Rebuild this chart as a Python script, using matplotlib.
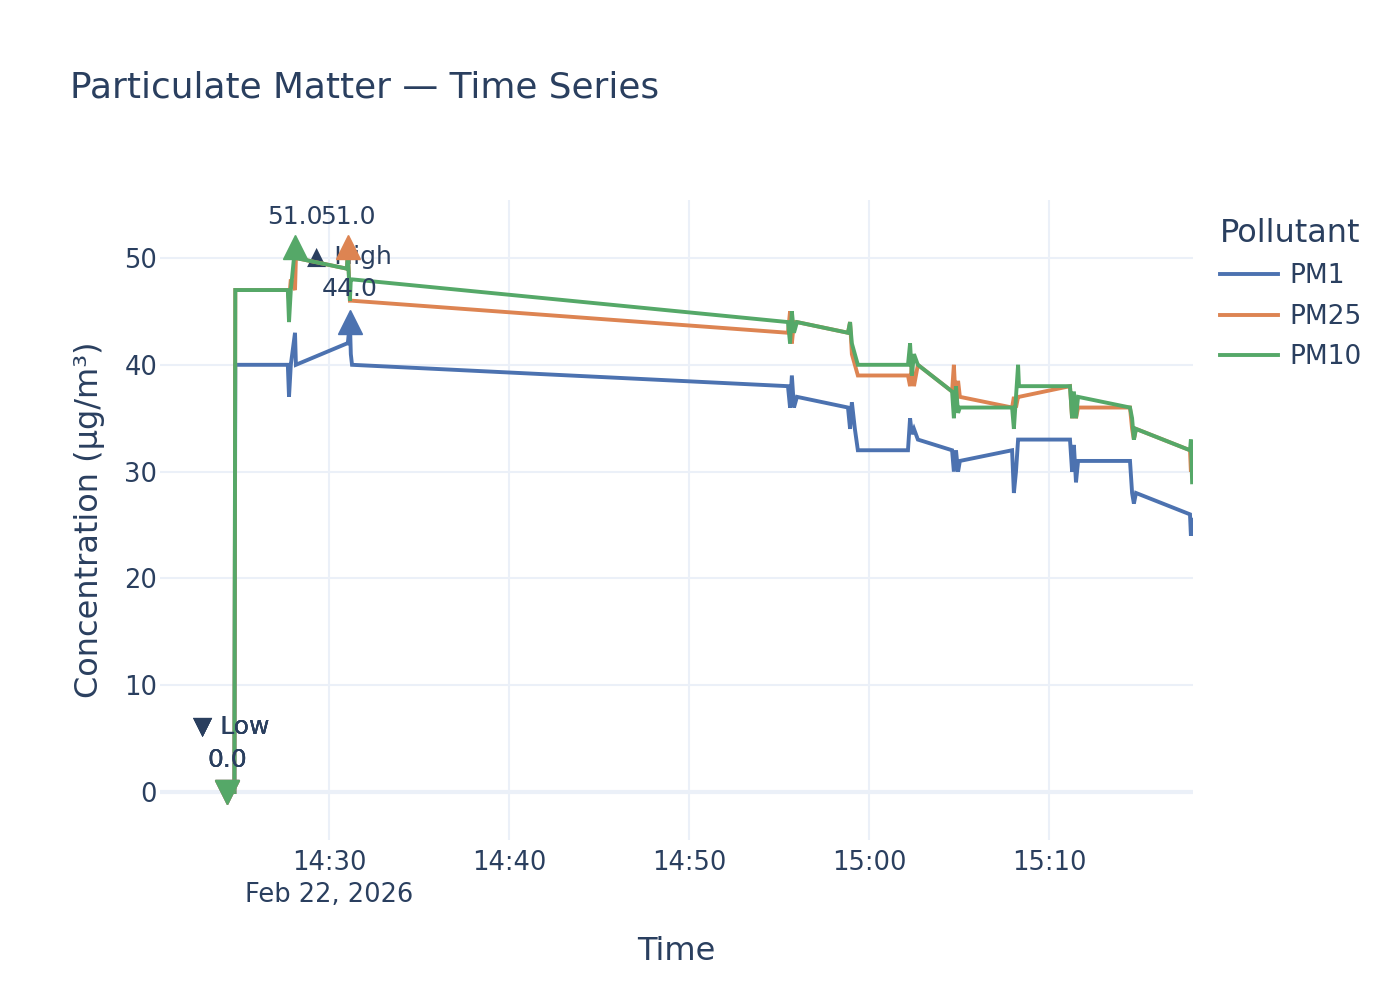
import matplotlib
matplotlib.use("Agg")
import matplotlib.pyplot as plt
import pandas as pd

# ---------------- data ----------------
date = "2026-02-22"
times = [
    "14:24:20", "14:24:45", "14:24:48", "14:27:43", "14:27:47", "14:27:53", "14:28:07", "14:28:10",
    "14:31:00", "14:31:03", "14:31:10", "14:31:13", "14:31:17",
    "14:55:30", "14:55:37", "14:55:43", "14:55:50", "14:56:00",
    "14:58:50", "14:58:57", "14:59:03", "14:59:13", "14:59:23",
    "15:02:10", "15:02:17", "15:02:23", "15:02:30", "15:02:43",
    "15:04:37", "15:04:43", "15:04:50", "15:04:57", "15:05:03",
    "15:07:57", "15:08:03", "15:08:10", "15:08:17", "15:08:20",
    "15:11:10", "15:11:17", "15:11:23", "15:11:30", "15:11:37",
    "15:14:30", "15:14:37", "15:14:43", "15:14:50",
    "15:17:50", "15:17:53", "15:17:57",
]
pm1 = [0, 0, 40, 40, 37, 40, 43, 40,
       42, 42, 44, 41, 40,
       38, 36, 39, 36, 37,
       36, 34, 36.5, 34, 32,
       32, 35, 33.5, 34, 33,
       32, 30, 32, 30, 31,
       32, 28, 30, 33, 33,
       33, 30, 32.5, 29, 31,
       31, 28, 27, 28,
       26, 24, 25.5]
pm25 = [0, 0, 47, 47, 46, 48, 47, 50,
        49, 51, 46, 46, 46,
        43, 45, 42, 44, 44,
        43, 44, 41, 40, 39,
        39, 38, 40, 38, 40,
        37.5, 40, 36, 38.5, 37,
        36, 37, 36, 37, 37,
        38, 35, 37, 35, 36,
        36, 34, 33, 34,
        32, 30, 30.5]
pm10 = [0, 0, 47, 47, 44, 47, 51, 50,
        49, 50.5, 46, 48, 48,
        44, 42, 45, 43, 44,
        43, 44, 42, 41, 40,
        40, 42, 39, 41, 40,
        37.5, 35, 38, 35.5, 36,
        36, 34, 37, 40, 38,
        38, 35, 37.5, 35, 37,
        36, 35, 33, 34,
        32, 33, 29]
series_names = ["PM1", "PM25", "PM10"]
series_values = [pm1, pm25, pm10]
colors = ["#4C72B0", "#DD8452", "#55A868"]

x_start, x_end = "14:20:37", "15:18:00"
tick_times = ["14:30", "14:40", "14:50", "15:00", "15:10"]
tick_labels = ["14:30\nFeb 22, 2026", "14:40", "14:50", "15:00", "15:10"]
y_ticks = [0, 10, 20, 30, 40, 50]

# ---------------- plot ----------------
TXT = "#2a3f5f"
GRID = "#EBF0F8"
plt.rcParams["font.family"] = ["DejaVu Sans"]

t = pd.to_datetime([f"{date} {s}" for s in times])

fig = plt.figure(figsize=(14, 10), dpi=100)
ax = fig.add_axes([160 / 1400, 0.16, (1193 - 160) / 1400, 0.64])
ax.set_facecolor("white")

for name, vals, c in zip(series_names, series_values, colors):
    ax.plot(t, vals, color=c, lw=2.8, label=name, zorder=3, solid_joinstyle="miter")

# extremes markers
for name, vals, c in zip(series_names, series_values, colors):
    imax = max(range(len(vals)), key=lambda i: vals[i])
    imin = min(range(len(vals)), key=lambda i: vals[i])
    ax.plot(t[imax], vals[imax], marker="^", ms=17, color=c, zorder=4, clip_on=False)
    ax.plot(t[imin], vals[imin], marker="v", ms=17, color=c, zorder=4, clip_on=False)
    if name == "PM1":
        ax.annotate(f"{vals[imax]:.1f}", (t[imax], vals[imax]), xytext=(0, 24),
                    textcoords="offset points", ha="center", va="center",
                    fontsize=18, color=TXT, zorder=5)
        ax.annotate("▲ High", (t[imax], vals[imax]), xytext=(0, 47),
                    textcoords="offset points", ha="center", va="center",
                    fontsize=18, color=TXT, zorder=2)
    else:
        ax.annotate(f"{vals[imax]:.1f}", (t[imax], vals[imax]), xytext=(0, 22),
                    textcoords="offset points", ha="center", va="center",
                    fontsize=18, color=TXT, zorder=5)
    ax.annotate(f"{vals[imin]:.1f}", (t[imin], vals[imin]), xytext=(0, 23),
                textcoords="offset points", ha="center", va="center",
                fontsize=18, color=TXT, zorder=5)
    ax.annotate("▼ Low", (t[imin], vals[imin]), xytext=(3, 47),
                textcoords="offset points", ha="center", va="center",
                fontsize=18, color=TXT, zorder=5)

ax.set_xlim(pd.Timestamp(f"{date} {x_start}"), pd.Timestamp(f"{date} {x_end}"))
ax.set_ylim(-4.49, 55.43)

ax.set_xticks(pd.to_datetime([f"{date} {s}" for s in tick_times]))
ax.set_xticklabels(tick_labels, fontsize=18.5, color=TXT, linespacing=1.3)
ax.set_yticks(y_ticks)
ax.set_yticklabels([str(v) for v in y_ticks], fontsize=18.5, color=TXT)
ax.tick_params(axis="both", length=0)
ax.tick_params(axis="x", pad=7)
ax.tick_params(axis="y", pad=2)

ax.grid(True, color=GRID, lw=1.5, zorder=0)
ax.set_axisbelow(True)
ax.axhline(0, color=GRID, lw=3, zorder=1)
for s in ax.spines.values():
    s.set_visible(False)

ax.set_xlabel("Time", fontsize=23, color=TXT, labelpad=20)
ax.set_ylabel("Concentration (µg/m³)", fontsize=23, color=TXT, labelpad=14)

fig.text(70 / 1400, 1 - 88 / 1000, "Particulate Matter — Time Series",
         fontsize=25.8, color=TXT, ha="left", va="center")

leg = fig.legend(*ax.get_legend_handles_labels(), title="Pollutant", loc="upper left",
                 bbox_to_anchor=(1196 / 1400, 1 - 194 / 1000),
                 frameon=False, fontsize=19, title_fontsize=23, handlelength=2.2,
                 handletextpad=0.45, labelspacing=0.55, alignment="left")
for txt in leg.get_texts():
    txt.set_color(TXT)
leg.get_title().set_color(TXT)

fig.savefig("out.png", dpi=100, facecolor="white")
